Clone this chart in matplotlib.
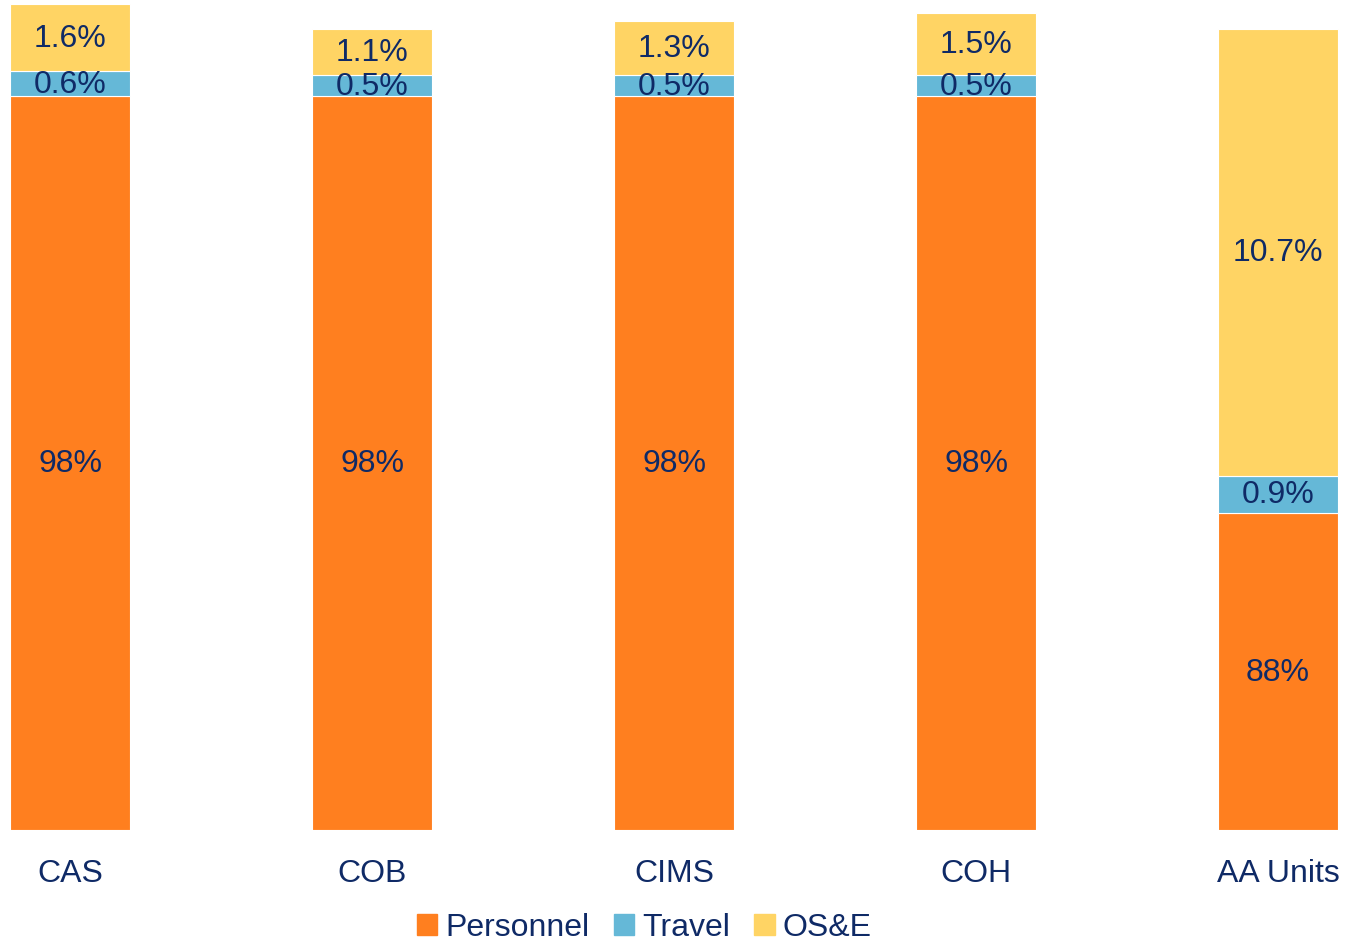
import numpy as np
import matplotlib
matplotlib.use('Agg')
import matplotlib.pyplot as plt
from matplotlib.patches import Patch

plt.rcParams['font.family'] = ['Liberation Sans', 'DejaVu Sans']

units = ['CAS', 'COB', 'CIMS', 'COH', 'AA Units']
personnel = [98, 98, 98, 98, 88]
travel = [0.6, 0.5, 0.5, 0.5, 0.9]
ose = [1.6, 1.1, 1.3, 1.5, 10.7]

C_PERS = '#FF7F1F'
C_TRAV = '#65B8D7'
C_OSE = '#FFD464'
TXT = '#0F2A66'
FS = 23

fig = plt.figure(figsize=(13.45, 9.45), dpi=100)
ax = fig.add_axes([0, 0.1206, 1, 0.8794])

x = np.arange(len(units))
w = 0.4
pers = np.array(personnel, dtype=float)
trav = np.array(travel, dtype=float)
os_e = np.array(ose, dtype=float)

# value axis starts above zero so the small shares stay readable
ymin = 80.4
ax.bar(x, pers - ymin, w, bottom=ymin, color=C_PERS, edgecolor='white', linewidth=0.8)
ax.bar(x, trav, w, bottom=pers, color=C_TRAV, edgecolor='white', linewidth=0.8)
ax.bar(x, os_e, w, bottom=pers + trav, color=C_OSE, edgecolor='white', linewidth=0.8)

for i in range(len(units)):
    ax.text(x[i], (ymin + pers[i]) / 2, f'{personnel[i]:.0f}%', ha='center', va='center',
            fontsize=FS, color=TXT)
    ax.text(x[i], pers[i] + trav[i] / 2, f'{travel[i]:.1f}%', ha='center', va='center',
            fontsize=FS, color=TXT)
    ax.text(x[i], pers[i] + trav[i] + os_e[i] / 2, f'{ose[i]:.1f}%', ha='center', va='center',
            fontsize=FS, color=TXT)

ax.set_xlim(-70 / 302, (1345 - 70) / 302)
ax.set_ylim(ymin, ymin + 831 / 41.7)
ax.set_xticks(x)
ax.set_xticklabels(units, fontsize=FS, color=TXT)
ax.tick_params(axis='x', length=0, pad=20)
ax.set_yticks([])
for s in ax.spines.values():
    s.set_visible(False)

handles = [Patch(color=C_PERS, label='Personnel'),
           Patch(color=C_TRAV, label='Travel'),
           Patch(color=C_OSE, label='OS&E')]
leg = fig.legend(handles=handles, loc='center', bbox_to_anchor=(0.479, 0.0175), ncol=3,
                 frameon=False, fontsize=FS, handlelength=0.65, handleheight=0.65,
                 handletextpad=0.25, columnspacing=0.75, borderpad=0)
for t in leg.get_texts():
    t.set_color(TXT)

fig.savefig('out.png', dpi=100)
